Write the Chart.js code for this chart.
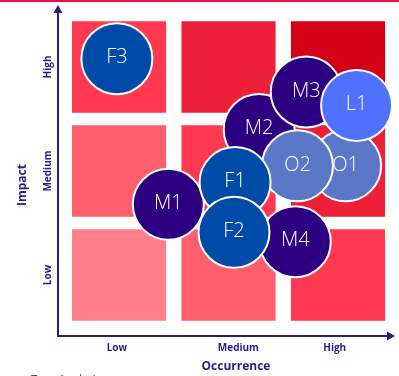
<!DOCTYPE html>
<html>
<head>
<meta charset="utf-8">
<script src="https://cdn.jsdelivr.net/npm/chart.js@4/dist/chart.umd.min.js"></script>
<style>
  html, body { margin: 0; padding: 0; background: #fff; }
  #wrap { width: 399px; height: 376px; position: relative; }
</style>
</head>
<body>
<div id="wrap"><canvas id="riskMatrix" width="399" height="376"></canvas></div>
<script>
// Risk items: occurrence (x) and impact (y) on a 0–3 scale, listed back to front
const riskIds    = ['O1', 'M2', 'M3', 'L1', 'O2', 'M1', 'F1', 'M4', 'F2', 'F3'];
const occurrence = [2.57, 1.78, 2.21, 2.67, 2.13, 0.95, 1.56, 2.11, 1.55, 0.48];
const impact     = [1.55, 1.90, 2.26, 2.13, 1.55, 1.18, 1.39, 0.82, 0.91, 2.58];
const bubbleSize = [35.5, 35.5, 35.5, 35.5, 35.5, 35.5, 35.5, 35.5, 35.5, 35.5];

// Category levels shared by both axes
const levelLabels   = ['Low', 'Medium', 'High'];
const occTickPos    = [0.48, 1.59, 2.47];
const impactTickPos = [0.5, 1.5, 2.5];

// Colours by risk family (first letter of the id)
const familyColors = { M: '#2d0082', F: '#004ba8', O: '#5b78c8', L: '#5070ff' };
// Cell shade by severity = column + row
const severityColors = ['#ff808b', '#ff5f6d', '#ff3a50', '#ee2038', '#d40016'];

const AXIS = '#2e1a87';
const FONT = '"Open Sans", "Noto Sans", sans-serif';

const datasets = riskIds.map((id, i) => ({
  label: id,
  data: [{ x: occurrence[i], y: impact[i], r: bubbleSize[i] }],
  backgroundColor: familyColors[id[0]],
  borderColor: '#ffffff',
  borderWidth: 2,
  hoverBorderWidth: 2,
  hoverRadius: 0,
  clip: false,
  order: riskIds.length - i
}));

const matrixPlugin = {
  id: 'matrix',
  beforeDatasetsDraw(chart) {
    const { ctx, scales: { x, y } } = chart;
    ctx.save();
    // thin brand rule across the top
    ctx.fillStyle = '#e8104a';
    ctx.fillRect(0, 0, chart.width, 2);

    // 3x3 matrix cells
    for (let c = 0; c < 3; c++) {
      for (let r = 0; r < 3; r++) {
        const x0 = x.getPixelForValue(c + 0.07), x1 = x.getPixelForValue(c + 0.93);
        const y0 = y.getPixelForValue(r + 0.94), y1 = y.getPixelForValue(r + 0.06);
        ctx.fillStyle = severityColors[c + r];
        ctx.fillRect(x0, y0, x1 - x0, y1 - y0);
      }
    }

    // axes with arrow heads
    const ox = x.getPixelForValue(x.min) + 1;
    const oy = y.getPixelForValue(y.min) - 1;
    const xEnd = x.getPixelForValue(x.max);
    const yEnd = y.getPixelForValue(y.max);
    ctx.strokeStyle = AXIS;
    ctx.fillStyle = AXIS;
    ctx.lineWidth = 2;
    ctx.beginPath();
    ctx.moveTo(ox, yEnd + 6);
    ctx.lineTo(ox, oy);
    ctx.lineTo(xEnd - 6, oy);
    ctx.stroke();
    ctx.beginPath();
    ctx.moveTo(ox, yEnd);
    ctx.lineTo(ox - 4.5, yEnd + 8);
    ctx.lineTo(ox + 4.5, yEnd + 8);
    ctx.closePath();
    ctx.fill();
    ctx.beginPath();
    ctx.moveTo(xEnd, oy);
    ctx.lineTo(xEnd - 8, oy - 4.5);
    ctx.lineTo(xEnd - 8, oy + 4.5);
    ctx.closePath();
    ctx.fill();

    // tick labels
    ctx.font = 'bold 10px ' + FONT;
    ctx.textAlign = 'center';
    ctx.textBaseline = 'middle';
    levelLabels.forEach((lab, i) => {
      ctx.fillText(lab, x.getPixelForValue(occTickPos[i]), oy + 12);
      ctx.save();
      ctx.translate(ox - 10, y.getPixelForValue(impactTickPos[i]));
      ctx.rotate(-Math.PI / 2);
      ctx.fillText(lab, 0, 0);
      ctx.restore();
    });

    // axis titles
    ctx.font = 'bold 12px ' + FONT;
    ctx.fillText('Occurrence', 236, oy + 31);
    ctx.save();
    ctx.translate(23, 185);
    ctx.rotate(-Math.PI / 2);
    ctx.fillText('Impact', 0, 0);
    ctx.restore();

    // caption below the chart
    ctx.font = 'italic 12px ' + FONT;
    ctx.fillStyle = '#555555';
    ctx.textAlign = 'left';
    ctx.textBaseline = 'alphabetic';
    ctx.fillText('Type Analysis', 30, 384);
    ctx.restore();
  },
  afterDatasetDraw(chart, args) {
    const el = args.meta.data[0];
    if (!el) return;
    const { ctx } = chart;
    ctx.save();
    ctx.fillStyle = '#ffffff';
    ctx.font = '300 20px ' + FONT;
    ctx.textAlign = 'center';
    ctx.textBaseline = 'middle';
    ctx.fillText(chart.data.datasets[args.index].label, el.x, el.y - 1);
    ctx.restore();
  }
};

new Chart(document.getElementById('riskMatrix'), {
  type: 'bubble',
  data: { datasets },
  options: {
    responsive: false,
    animation: false,
    events: [],
    layout: { autoPadding: false, padding: { left: 57, right: 4, top: 5, bottom: 39 } },
    scales: {
      x: { type: 'linear', min: -0.067, max: 3.021, display: false },
      y: { type: 'linear', min: -0.096, max: 3.096, display: false }
    },
    plugins: { legend: { display: false }, tooltip: { enabled: false } }
  },
  plugins: [matrixPlugin]
});
</script>
</body>
</html>
